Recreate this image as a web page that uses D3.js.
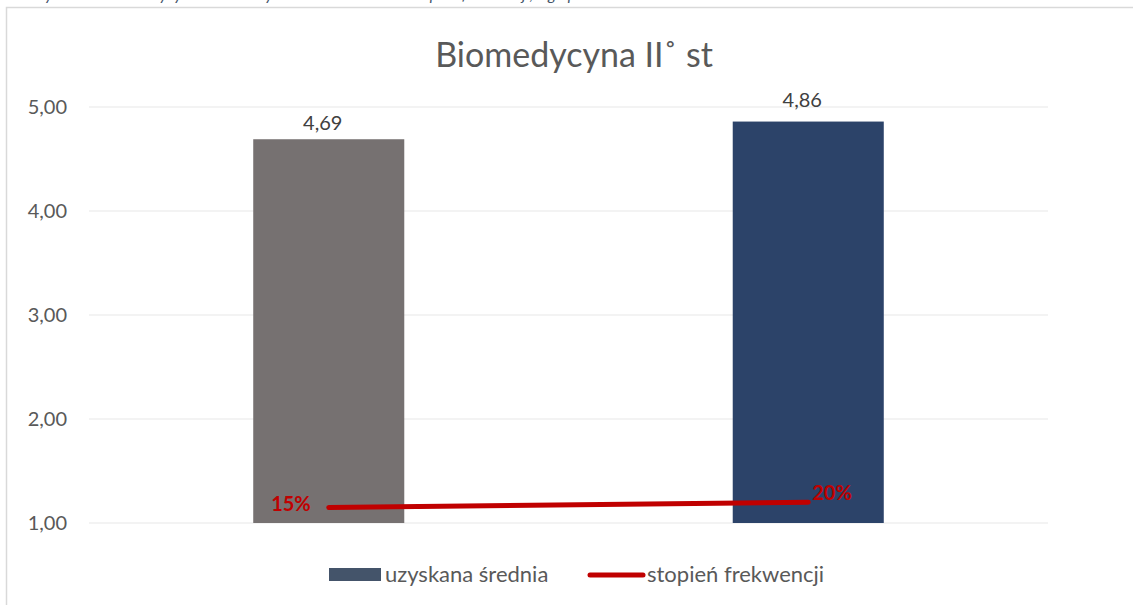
<!DOCTYPE html>
<html>
<head>
<meta charset="utf-8">
<script src="https://cdn.jsdelivr.net/npm/d3@7"></script>
<style>
  body { margin: 0; background: #fff; }
  text { font-family: Lato, "Open Sans", sans-serif; }
</style>
</head>
<body>
<div id="chart-area"></div>
<script>
let width = 1133,
    height = 605;

// data
let categories = ["Biomedycyna II° st – ocena", "Biomedycyna II° st – frekwencja"];
let srednia = [4.69, 4.86];
let frekwencja = [0.15, 0.20];
let yTicks = [1, 2, 3, 4, 5];
let barColors = ["#767171", "#2c4369"];

let svg = d3.select("#chart-area").append("svg")
    .attr("width", width)
    .attr("height", height);

// caption line above the chart (cut off by the top edge, as in the original)
svg.append("text")
    .attr("x", 30)
    .attr("y", 0)
    .attr("font-size", 16)
    .attr("font-style", "italic")
    .attr("fill", "#44546a")
    .text("Wykres 12. Biomedycyna II° st – uzyskana średnia ocen i stopień frekwencji, wg opinii studentów");

// chart frame
svg.append("rect")
    .attr("x", 6.5)
    .attr("y", 7.5)
    .attr("width", 1140)
    .attr("height", 610)
    .attr("fill", "#fff")
    .attr("stroke", "#d9d9d9")
    .attr("stroke-width", 1.5);

// scales
let x = d3.scaleBand()
    .domain(categories)
    .range([89, 1048])
    .padding(0);

let y = d3.scaleLinear()
    .domain([1, 5])
    .range([523, 107]);

// secondary (hidden) axis for the line
let y2 = d3.scaleLinear()
    .domain([0, 4])
    .range([523, 107]);

let fmt = d => d3.format(".2f")(d).replace(".", ",");

// gridlines
svg.selectAll(".grid")
    .data(yTicks)
    .enter().append("line")
    .attr("class", "grid")
    .attr("x1", 89)
    .attr("x2", 1048)
    .attr("y1", d => y(d))
    .attr("y2", d => y(d))
    .attr("stroke", "#efefef")
    .attr("stroke-width", 1.5);

// y axis labels
let yAxis = d3.axisLeft(y)
    .tickValues(yTicks)
    .tickFormat(fmt)
    .tickSize(0)
    .tickPadding(0);

let gy = svg.append("g")
    .attr("transform", "translate(67,0)")
    .call(yAxis);
gy.select(".domain").remove();
gy.selectAll("text")
    .attr("font-family", "Lato, 'Open Sans', sans-serif")
    .attr("font-size", 20)
    .attr("fill", "#595959");

// title
svg.append("text")
    .attr("x", 574)
    .attr("y", 67)
    .attr("text-anchor", "middle")
    .attr("font-size", 34)
    .attr("fill", "#595959")
    .text("Biomedycyna II˚ st");

// bars
let barW = x.bandwidth() * 0.315;
let cx = d => x(d) + x.bandwidth() / 2;

svg.selectAll(".bar")
    .data(srednia)
    .enter().append("rect")
    .attr("class", "bar")
    .attr("x", (d, i) => cx(categories[i]) - barW / 2)
    .attr("y", d => y(d))
    .attr("width", barW)
    .attr("height", d => y(1) - y(d))
    .attr("fill", (d, i) => barColors[i]);

// bar value labels
svg.selectAll(".barLabel")
    .data(srednia)
    .enter().append("text")
    .attr("class", "barLabel")
    .attr("x", (d, i) => cx(categories[i]) - 6)
    .attr("y", (d, i) => y(d) - (i == 0 ? 9 : 15))
    .attr("text-anchor", "middle")
    .attr("font-size", 20)
    .attr("fill", "#404040")
    .text(fmt);

// line
let line = d3.line()
    .x((d, i) => cx(categories[i]))
    .y(d => y2(d));

svg.append("path")
    .datum(frekwencja)
    .attr("d", line)
    .attr("fill", "none")
    .attr("stroke", "#c00000")
    .attr("stroke-width", 5)
    .attr("stroke-linecap", "round");

// line labels
svg.selectAll(".lineLabel")
    .data(frekwencja)
    .enter().append("text")
    .attr("class", "lineLabel")
    .attr("x", (d, i) => cx(categories[i]) + (i == 0 ? -18 : 4))
    .attr("y", (d, i) => y2(d) + (i == 0 ? 4 : -2))
    .attr("text-anchor", (d, i) => i == 0 ? "end" : "start")
    .attr("font-size", 20)
    .attr("font-weight", "bold")
    .attr("fill", "#c00000")
    .text(d => d3.format(".0%")(d));

// legend
let legend = svg.append("g");
legend.append("rect")
    .attr("x", 329)
    .attr("y", 568)
    .attr("width", 52)
    .attr("height", 13)
    .attr("fill", "#44546a");
legend.append("text")
    .attr("x", 385)
    .attr("y", 582)
    .attr("font-size", 22)
    .attr("fill", "#595959")
    .text("uzyskana średnia");
legend.append("line")
    .attr("x1", 590)
    .attr("x2", 643)
    .attr("y1", 575)
    .attr("y2", 575)
    .attr("stroke", "#c00000")
    .attr("stroke-width", 5)
    .attr("stroke-linecap", "round");
legend.append("text")
    .attr("x", 647)
    .attr("y", 582)
    .attr("font-size", 22)
    .attr("fill", "#595959")
    .text("stopień frekwencji");
</script>
</body>
</html>
